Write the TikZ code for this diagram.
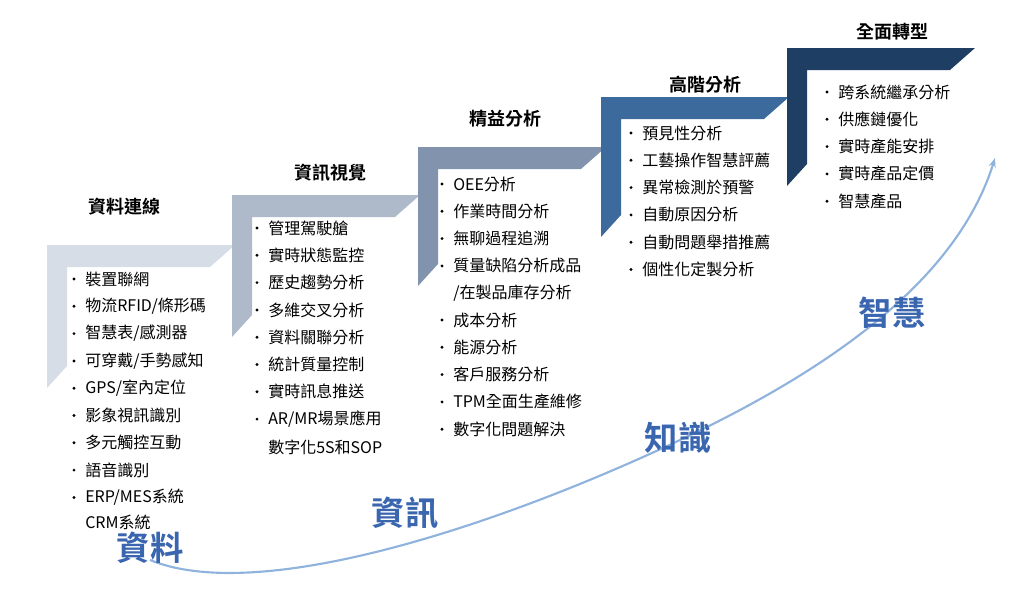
\documentclass[tikz,border=0pt]{standalone}
\usepackage{fontspec}
\setmainfont{Noto Sans CJK TC}
\newfontfamily\titlefont{Noto Sans CJK TC Bold}
\usetikzlibrary{arrows.meta}
\definecolor{stepa}{HTML}{D6DDE7}
\definecolor{stepb}{HTML}{AEB9CA}
\definecolor{stepc}{HTML}{8294AD}
\definecolor{stepd}{HTML}{3D6A9C}
\definecolor{stepe}{HTML}{1F3E64}
\definecolor{wordblue}{HTML}{3A66B0}
\definecolor{curveblue}{HTML}{8FB3DC}

\tikzset{
  steptitle/.style={font=\titlefont\fontsize{13.5}{15}\selectfont},
  itemtext/.style={anchor=west, font=\fontsize{12}{13}\selectfont, inner sep=0pt},
  bigword/.style={font=\titlefont\fontsize{25}{28}\selectfont, text=wordblue}
}

% one step: left x, top y, fill colour, bottom of the band
\newcommand{\stepband}[4]{%
  \fill[#3] (#1,#2) -- (#1+188,#2) -- (#1+163,#2+22) -- (#1+20,#2+22)
    -- (#1+20,#4-22) -- (#1,#4) -- cycle;}

% list: x, first y, items
\newcommand{\steplist}[3]{%
  \foreach \t [count=\i from 0] in {#3} {
    \fill (#1-11,#2+\i*27.3) circle (1.6);
    \node[itemtext] (item-#1-\i) at (#1,#2+\i*27.3) {\t};
  }}

\begin{document}
\begin{tikzpicture}[x=0.75pt,y=-0.75pt]
  \useasboundingbox (0,0) rectangle (1024,596);

  \stepband{47}{245}{stepa}{388}
  \stepband{232}{195}{stepb}{337}
  \stepband{418}{147}{stepc}{286}
  \stepband{601}{97}{stepd}{237}
  \stepband{787}{48}{stepe}{186}

  \node[steptitle] (t1) at (124,207) {資料連線};
  \node[steptitle] (t2) at (330,173) {資訊視覺};
  \node[steptitle] (t3) at (505,119) {精益分析};
  \node[steptitle] (t4) at (705,85) {高階分析};
  \node[steptitle] (t5) at (892,32) {全面轉型};

  \steplist{85}{279}{裝置聯網, 物流RFID/條形碼, 智慧表/感測器, 可穿戴/手勢感知, GPS/室內定位, 影象視訊識別, 多元觸控互動, 語音識別, ERP/MES系統}
  \node[itemtext] (c1) at (85,522) {CRM系統};
  \steplist{268}{228}{管理駕駛艙, 實時狀態監控, 歷史趨勢分析, 多維交叉分析, 資料關聯分析, 統計質量控制, 實時訊息推送, AR/MR場景應用}
  \node[itemtext] (c2) at (268,447) {數字化5S和SOP};
  \steplist{453}{184}{OEE分析, 作業時間分析, 無聊過程追溯, 質量缺陷分析成品}
  \node[itemtext] (c3) at (453,293) {/在製品庫存分析};
  \steplist{453}{320}{成本分析, 能源分析, 客戶服務分析, TPM全面生產維修, 數字化問題解決}
  \steplist{642}{133}{預見性分析, 工藝操作智慧評薦, 異常檢測於預警, 自動原因分析, 自動問題舉措推薦, 個性化定製分析}
  \steplist{838}{92}{跨系統繼承分析, 供應鏈優化, 實時產能安排, 實時產品定價, 智慧產品}

  \coordinate (cs) at (150,560);
  \coordinate (cm) at (680,440);
  \coordinate (ce) at (995,158);
  \draw[curveblue, line width=1.6pt, -{Stealth[length=7pt]}]
    (cs) .. controls (260,605) and (500,525) .. (cm)
    .. controls (850,360) and (960,270) .. (ce);

  \node[bigword] (w1) at (150,548) {資料};
  \node[bigword] (w2) at (405,513) {資訊};
  \node[bigword] (w3) at (678,438) {知識};
  \node[bigword] (w4) at (892,313) {智慧};
\end{tikzpicture}
\end{document}
